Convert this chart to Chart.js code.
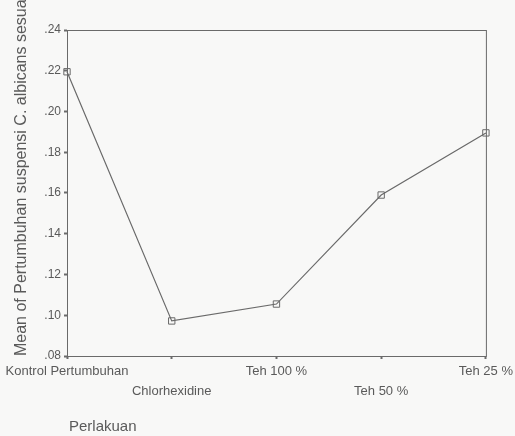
<!DOCTYPE html>
<html>
<head>
<meta charset="utf-8">
<script src="https://cdn.jsdelivr.net/npm/chart.js@4/dist/chart.umd.min.js"></script>
<style>
  html, body { margin: 0; padding: 0; background: #f8f8f7; }
  #wrap { width: 515px; height: 436px; }
</style>
</head>
<body>
<div id="wrap"><canvas id="myChart" width="515" height="436"></canvas></div>
<script>
let categories = ['Kontrol Pertumbuhan', 'Chlorhexidine', 'Teh 100 %', 'Teh 50 %', 'Teh 25 %'];
let meanValues = [0.2195, 0.0972, 0.1055, 0.1590, 0.1895];
let yTicks = [0.08, 0.10, 0.12, 0.14, 0.16, 0.18, 0.20, 0.22, 0.24];
let yTitle = 'Mean of Pertumbuhan suspensi C. albicans sesuai';
let xTitle = 'Perlakuan';

const lineColor = '#6a6a6a';
const textColor = '#5a5a5a';

// stagger the category labels on two rows like the original
const labels = categories.map((c, i) => (i % 2 === 1 ? ['', c] : c));

const frameAndTitles = {
  id: 'frameAndTitles',
  afterDraw(chart) {
    const ctx = chart.ctx;
    const a = chart.chartArea;
    ctx.save();
    ctx.strokeStyle = lineColor;
    ctx.lineWidth = 1;
    ctx.strokeRect(a.left + 0.5, a.top + 0.5, a.right - a.left, a.bottom - a.top);

    ctx.fillStyle = textColor;
    ctx.textBaseline = 'middle';
    ctx.textAlign = 'left';
    ctx.font = '15px "Liberation Sans", Arial, sans-serif';
    ctx.fillText(xTitle, 69, 427);

    ctx.font = '16px "Liberation Sans", Arial, sans-serif';
    ctx.translate(22, 356);
    ctx.rotate(-Math.PI / 2);
    ctx.fillText(yTitle, 0, 0);
    ctx.restore();
  }
};

const ctx = document.getElementById('myChart').getContext('2d');
let myChart = new Chart(ctx, {
  type: 'line',
  data: {
    labels: labels,
    datasets: [{
      data: meanValues,
      borderColor: lineColor,
      borderWidth: 1.2,
      tension: 0,
      pointStyle: 'rect',
      pointRadius: 4.5,
      pointBorderWidth: 1,
      pointBorderColor: lineColor,
      pointBackgroundColor: 'rgba(0,0,0,0)'
    }]
  },
  options: {
    responsive: false,
    animation: false,
    layout: { padding: { left: 0, right: 28, top: 30, bottom: 0 } },
    plugins: {
      legend: { display: false },
      tooltip: { enabled: false }
    },
    scales: {
      x: {
        offset: false,
        grid: { drawOnChartArea: false, color: lineColor, tickLength: 3, tickWidth: 2 },
        border: { color: lineColor },
        ticks: {
          color: textColor,
          maxRotation: 0,
          autoSkip: false,
          padding: 2,
          font: { family: '"Liberation Sans", Arial, sans-serif', size: 13, lineHeight: 1.55 }
        },
        afterFit(scale) { scale.height = 80; }
      },
      y: {
        min: 0.08,
        max: 0.24,
        afterBuildTicks(scale) { scale.ticks = yTicks.map(v => ({ value: v })); },
        grid: { drawOnChartArea: false, color: lineColor, tickLength: 3, tickWidth: 2 },
        border: { color: lineColor },
        ticks: {
          color: textColor,
          padding: 3,
          font: { family: '"Liberation Sans", Arial, sans-serif', size: 12 },
          callback: v => v.toFixed(2).replace(/^0/, '')
        },
        afterFit(scale) { scale.width = 67; }
      }
    }
  },
  plugins: [frameAndTitles]
});
</script>
</body>
</html>
